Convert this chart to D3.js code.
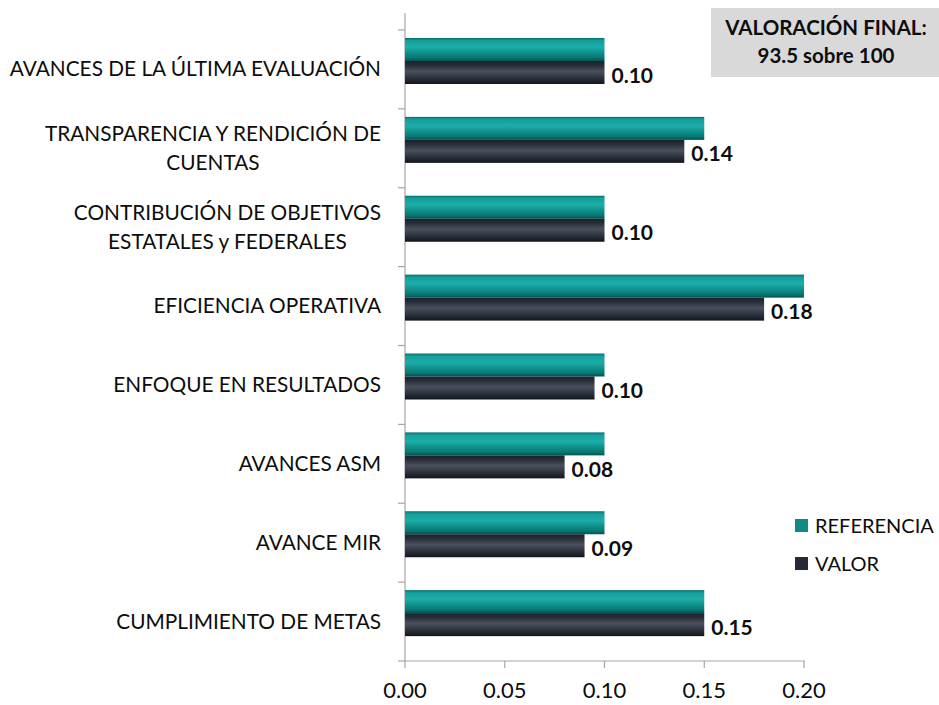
<!DOCTYPE html>
<html>
<head>
<meta charset="utf-8">
<script src="https://cdn.jsdelivr.net/npm/d3@7"></script>
<style>
  body { margin: 0; background: #fff; }
  svg text { font-family: Lato, "Open Sans", sans-serif; fill: #0d0d0d; }
</style>
</head>
<body>
<div id="chart"></div>
<script>
// categories, top to bottom (each entry = lines of the label)
const categories = [
  ["AVANCES DE LA ÚLTIMA EVALUACIÓN"],
  ["TRANSPARENCIA Y RENDICIÓN DE", "CUENTAS"],
  ["CONTRIBUCIÓN DE OBJETIVOS", "ESTATALES y FEDERALES"],
  ["EFICIENCIA OPERATIVA"],
  ["ENFOQUE EN RESULTADOS"],
  ["AVANCES ASM"],
  ["AVANCE MIR"],
  ["CUMPLIMIENTO DE METAS"]
]
const referencia = [0.10, 0.15, 0.10, 0.20, 0.10, 0.10, 0.10, 0.15]
const valor = [0.10, 0.14, 0.10, 0.18, 0.095, 0.08, 0.09, 0.15]
const xTicks = [0, 0.05, 0.10, 0.15, 0.20]
const seriesNames = ["REFERENCIA", "VALOR"]
const boxLines = ["VALORACIÓN FINAL:", "93.5 sobre 100"]

const W = 939, H = 705
const plot = { left: 405, right: 804, top: 30, bottom: 661 }

const svg = d3.select("#chart").append("svg")
  .attr("width", W).attr("height", H)

// gradients for the cylinder look
const defs = svg.append("defs")
function grad(id, stops) {
  const g = defs.append("linearGradient").attr("id", id)
    .attr("x1", 0).attr("y1", 0).attr("x2", 0).attr("y2", 1)
  stops.forEach(s => g.append("stop").attr("offset", s[0]).attr("stop-color", s[1]))
}
grad("gTeal", [[0, "#08706c"], [0.12, "#14a09c"], [0.4, "#1dada9"], [0.6, "#119590"], [0.85, "#077874"], [1, "#03524f"]])
grad("gDark", [[0, "#1b202a"], [0.2, "#2a303b"], [0.45, "#4a505d"], [0.65, "#353b47"], [1, "#12151c"]])

//scales
const x = d3.scaleLinear().domain([0, 0.20]).range([plot.left, plot.right])
const y = d3.scaleBand().domain(d3.range(categories.length)).range([plot.top, plot.bottom])

// axes
const axisColor = "#a6a6a6"
svg.append("line")
  .attr("x1", plot.left).attr("x2", plot.left)
  .attr("y1", 13).attr("y2", plot.bottom)
  .attr("stroke", axisColor).attr("stroke-width", 1.2)
svg.append("line")
  .attr("x1", plot.left).attr("x2", plot.right + 1)
  .attr("y1", plot.bottom).attr("y2", plot.bottom)
  .attr("stroke", axisColor).attr("stroke-width", 1.2)

// category tick marks at band boundaries
const bounds = d3.range(categories.length + 1).map(i => plot.top + i * y.step())
svg.selectAll(".ytick").data(bounds).join("line")
  .attr("x1", plot.left - 7).attr("x2", plot.left)
  .attr("y1", d => d).attr("y2", d => d)
  .attr("stroke", axisColor).attr("stroke-width", 1.2)

svg.selectAll(".xtick").data(xTicks).join("line")
  .attr("x1", d => x(d)).attr("x2", d => x(d))
  .attr("y1", plot.bottom).attr("y2", plot.bottom + 7)
  .attr("stroke", axisColor).attr("stroke-width", 1.2)

svg.selectAll(".xlab").data(xTicks).join("text")
  .attr("x", d => x(d)).attr("y", 698)
  .attr("text-anchor", "middle")
  .attr("font-size", 22)
  .text(d => d3.format(".2f")(d))

// category labels
const lineH = 29
categories.forEach((lines, i) => {
  const cy = y(i) + y.step() / 2
  const t = svg.append("text")
    .attr("font-size", 20.8)
    .attr("text-anchor", "middle")
  lines.forEach((ln, j) => {
    t.append("tspan")
      .attr("y", cy + 7 + (j - (lines.length - 1) / 2) * lineH)
      .text(ln)
  })
  // right align the block at x=381, lines centered within it
  let maxW = 0
  t.selectAll("tspan").each(function () { maxW = Math.max(maxW, this.getComputedTextLength()) })
  t.selectAll("tspan").attr("x", 381 - maxW / 2)
})

// bars
const barH = 23, barOff = 8
svg.selectAll(".ref").data(referencia).join("rect")
  .attr("x", x(0)).attr("y", (d, i) => y(i) + barOff)
  .attr("width", d => x(d) - x(0)).attr("height", barH)
  .attr("fill", "url(#gTeal)")
svg.selectAll(".val").data(valor).join("rect")
  .attr("x", x(0)).attr("y", (d, i) => y(i) + barOff + barH)
  .attr("width", d => x(d) - x(0)).attr("height", barH)
  .attr("fill", "url(#gDark)")

// value labels
svg.selectAll(".vlab").data(valor).join("text")
  .attr("x", d => x(d) + 7)
  .attr("y", (d, i) => y(i) + barOff + barH * 1.5 + 10)
  .attr("font-size", 21).attr("font-weight", "bold")
  .text(d => d3.format(".2f")(d))

// legend
const legColors = ["#0f8a86", "#252a36"]
seriesNames.forEach((s, i) => {
  const ly = 526 + i * 38
  svg.append("rect").attr("x", 795).attr("y", ly - 7).attr("width", 13).attr("height", 13)
    .attr("fill", legColors[i])
  svg.append("text").attr("x", 815).attr("y", ly + 7)
    .attr("font-size", 20).text(s)
})

// final score box
svg.append("rect").attr("x", 711).attr("y", 8).attr("width", 228).attr("height", 69)
  .attr("fill", "#d9d9d9")
boxLines.forEach((s, i) => {
  svg.append("text").attr("x", 826).attr("y", 35 + i * 28)
    .attr("text-anchor", "middle").attr("font-size", 20.5).attr("font-weight", "bold")
    .text(s)
})
</script>
</body>
</html>
